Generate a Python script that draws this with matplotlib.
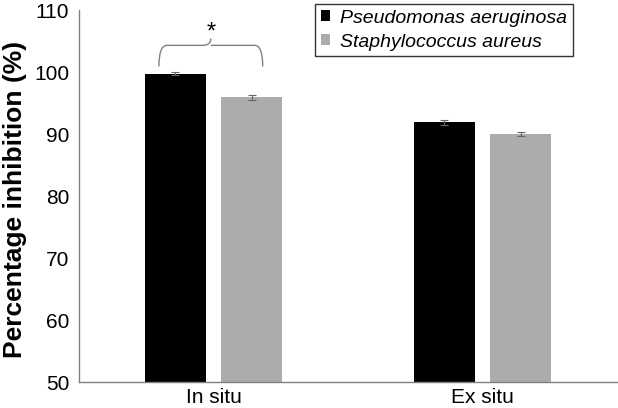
import numpy as np
import matplotlib.pyplot as plt
from matplotlib.path import Path
from matplotlib.patches import PathPatch

plt.rcParams['font.family'] = ['Liberation Sans', 'DejaVu Sans']

categories = ['In situ', 'Ex situ']
series_names = ['Pseudomonas aeruginosa', 'Staphylococcus aureus']
pseudomonas = [99.7, 91.9]
pseudomonas_err = [0.25, 0.4]
staph = [95.9, 90.0]
staph_err = [0.4, 0.3]
colors = ['#000000', '#aeacab']

fig = plt.figure(figsize=(6.18, 4.08), dpi=100)
ax = fig.add_axes([79 / 618, 1 - 382 / 408, 538 / 618, 372 / 408])

x = np.arange(len(categories))
w = 0.227
off = 0.143
ax.bar(x - off, np.array(pseudomonas) - 50, w, bottom=50, color=colors[0],
       label=series_names[0], yerr=pseudomonas_err, ecolor='#666666',
       error_kw=dict(capsize=3, elinewidth=0.8, capthick=0.8))
ax.bar(x + off, np.array(staph) - 50, w, bottom=50, color=colors[1],
       label=series_names[1], yerr=staph_err, ecolor='#666666',
       error_kw=dict(capsize=3, elinewidth=0.8, capthick=0.8))

ax.set_xlim(-0.5, 1.5)
ax.set_ylim(50, 110)
ax.set_yticks(range(50, 111, 10))
ax.set_xticks(x)
ax.set_xticklabels(categories)
ax.tick_params(axis='y', length=0, labelsize=15, pad=7)
ax.tick_params(axis='x', length=0, labelsize=15, pad=4)
ax.set_ylabel('Percentage inhibition (%)', fontsize=19, fontweight='bold')
ax.yaxis.set_label_coords(-52 / 538, 0.49)
for s in ['top', 'right']:
    ax.spines[s].set_visible(False)
for s in ['left', 'bottom']:
    ax.spines[s].set_color('#808080')
    ax.spines[s].set_linewidth(1)

# significance brace over "In situ"
x0, x1 = x[0] - off - 0.06, x[0] + off + 0.04
xm = (x0 + x1) / 2
ylo, yhi, ytip = 100.9, 104.3, 105.4
verts = [(x0, ylo), (x0, yhi), (x0 + 0.03, yhi), (xm - 0.03, yhi),
         (xm, yhi), (xm, ytip),
         (xm, yhi), (xm + 0.03, yhi), (x1 - 0.03, yhi),
         (x1, yhi), (x1, ylo)]
codes = [Path.MOVETO, Path.CURVE3, Path.CURVE3, Path.LINETO,
         Path.CURVE3, Path.CURVE3,
         Path.MOVETO, Path.LINETO, Path.LINETO,
         Path.CURVE3, Path.CURVE3]
ax.add_patch(PathPatch(Path(verts, codes), fill=False, edgecolor='#808080', lw=1))
ax.text(xm, 106.3, '*', ha='center', va='center', fontsize=17)

leg = ax.legend(loc='upper right', bbox_to_anchor=((573 - 79) / 538, (382 - 4) / 372),
                prop={'style': 'italic', 'size': 14}, frameon=True,
                fancybox=False, edgecolor='black', handlelength=0.5, handleheight=0.5,
                handletextpad=0.5, borderpad=0.3, labelspacing=0.35, borderaxespad=0)
leg.get_frame().set_linewidth(1)

fig.savefig('out.png', dpi=100)
